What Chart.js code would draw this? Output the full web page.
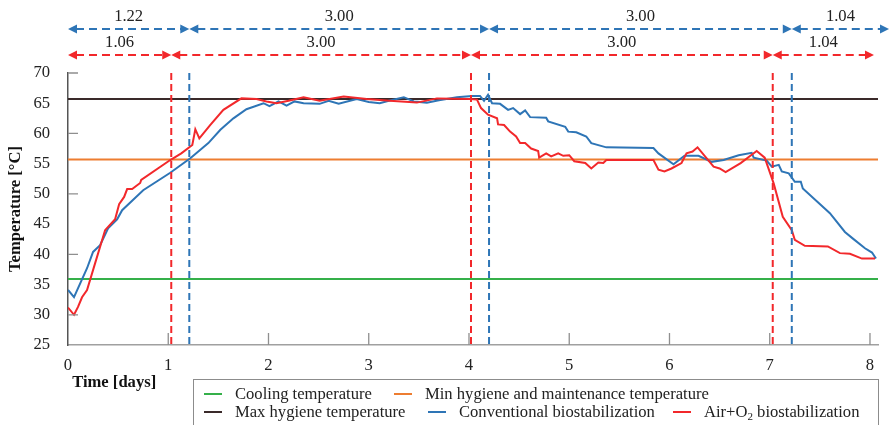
<!DOCTYPE html>
<html>
<head>
<meta charset="utf-8">
<title>Temperature profiles of biostabilization</title>
<script src="https://cdn.jsdelivr.net/npm/chart.js@4.4.1/dist/chart.umd.min.js"></script>
<style>
  html, body { margin: 0; padding: 0; background: #fff; overflow: hidden; }
  #wrap { position: relative; width: 891px; height: 425px; }
  #legend {
    position: absolute; left: 193px; top: 379px; width: 686px; height: 70px;
    border: 1px solid #8c8c8c; box-sizing: border-box;
    font-family: 'Liberation Serif', 'Times New Roman', serif; font-size: 16.6px; color: #222;
  }
  .legend-item { position: absolute; display: flex; align-items: center; white-space: nowrap; height: 18px; line-height: 18px; }
  .legend-line { width: 18px; height: 2px; margin-right: 13px; }
  .legend-item sub { font-size: 11px; line-height: 0; vertical-align: -3px; }
</style>
</head>
<body>
<div id="wrap">
  <canvas id="tempChart" width="891" height="425"></canvas>
  <div id="legend"></div>
</div>
<script>
// ─── Data ─────────────────────────────────────────────────────────────────────

const xTickValues = [0, 1, 2, 3, 4, 5, 6, 7, 8];
const yTickValues = [25, 30, 35, 40, 45, 50, 55, 60, 65, 70];
const yMajorTicks = [30, 40, 50, 60, 70];

// reference temperatures (horizontal lines)
const refNames = ['Cooling temperature', 'Min hygiene and maintenance temperature', 'Max hygiene temperature'];
const refLevels = [35.9, 55.7, 65.7];
const refColors = ['#35b04a', '#ed7d31', '#3a2a2a'];

// conventional biostabilization
const convDays = [0.00, 0.06, 0.19, 0.25, 0.32, 0.40, 0.49, 0.54, 0.75, 1.02, 1.22, 1.40, 1.52, 1.65, 1.78,
  1.95, 2.01, 2.10, 2.18, 2.26, 2.35, 2.51, 2.60, 2.70, 2.88, 3.00, 3.11, 3.20, 3.35, 3.45, 3.58, 3.70, 3.88,
  4.03, 4.11, 4.15, 4.19, 4.23, 4.31, 4.39, 4.44, 4.51, 4.56, 4.61, 4.77, 4.79, 4.96, 4.99, 5.07, 5.17, 5.22,
  5.37, 5.84, 5.89, 6.04, 6.15, 6.29, 6.42, 6.54, 6.69, 6.82, 6.84, 6.97, 7.02, 7.09, 7.12, 7.19, 7.25, 7.31,
  7.33, 7.60, 7.75, 7.83, 7.95, 8.02, 8.06];
const convTemp = [34.1, 32.9, 37.7, 40.4, 41.5, 44.3, 45.8, 47.3, 50.6, 53.5, 55.9, 58.4, 60.6, 62.5, 64.0,
  65.0, 64.5, 65.3, 64.6, 65.3, 65.0, 64.9, 65.4, 64.9, 65.7, 65.2, 65.0, 65.4, 66.0, 65.3, 65.1, 65.5, 66.0,
  66.2, 66.2, 65.4, 66.4, 65.0, 64.9, 63.9, 64.2, 63.2, 63.8, 62.7, 62.6, 62.0, 61.1, 60.3, 60.2, 59.5, 58.4,
  57.7, 57.6, 56.7, 54.9, 56.3, 56.3, 55.3, 55.6, 56.4, 56.8, 56.0, 55.5, 54.5, 54.8, 53.7, 53.4, 52.0, 52.0,
  50.9, 46.8, 43.7, 42.6, 41.0, 40.3, 39.3];

// Air+O2 biostabilization
const airDays = [0.00, 0.06, 0.10, 0.14, 0.19, 0.27, 0.37, 0.47, 0.51, 0.56, 0.59, 0.64, 0.72, 0.73, 1.02,
  1.13, 1.24, 1.27, 1.31, 1.42, 1.55, 1.73, 1.88, 1.98, 2.08, 2.20, 2.35, 2.51, 2.75, 2.98, 3.21, 3.48, 3.68,
  4.01, 4.08, 4.12, 4.19, 4.28, 4.29, 4.35, 4.41, 4.47, 4.51, 4.56, 4.62, 4.69, 4.70, 4.77, 4.82, 4.89, 4.94,
  5.00, 5.05, 5.16, 5.22, 5.29, 5.34, 5.37, 5.84, 5.89, 5.95, 6.02, 6.12, 6.17, 6.23, 6.28, 6.44, 6.50, 6.56,
  6.71, 6.87, 6.95, 7.04, 7.13, 7.22, 7.25, 7.35, 7.58, 7.70, 7.80, 7.92, 8.05];
const airTemp = [31.2, 30.0, 31.3, 32.9, 34.1, 38.5, 44.0, 45.8, 48.3, 49.5, 50.8, 50.8, 51.8, 52.3, 55.6,
  56.7, 58.1, 60.7, 59.2, 61.4, 63.9, 65.8, 65.7, 65.3, 65.0, 65.4, 66.0, 65.4, 66.1, 65.7, 65.4, 65.1, 65.8,
  65.7, 65.6, 64.2, 63.1, 62.5, 61.5, 61.4, 60.3, 59.5, 58.4, 58.4, 57.5, 57.1, 56.0, 56.7, 56.2, 56.7, 56.3,
  56.4, 55.4, 55.1, 54.2, 55.2, 55.1, 55.6, 55.6, 54.0, 53.7, 54.2, 55.1, 56.7, 57.0, 57.7, 54.5, 54.2, 53.6,
  55.1, 57.1, 56.0, 51.7, 46.2, 44.0, 42.4, 41.4, 41.3, 40.2, 40.1, 39.3, 39.3];

// phase boundaries (days) and durations shown above the plot
const convBounds = [0, 1.21, 4.20, 7.22, 8.19];
const convPhaseLabels = ['1.22', '3.00', '3.00', '1.04'];
const airBounds = [0, 1.03, 4.02, 7.03, 8.04];
const airPhaseLabels = ['1.06', '3.00', '3.00', '1.04'];

const xMin = 0;
const xMax = 8.08;

const BLUE = '#2e75b6';
const RED = '#f2282b';
const SERIF = "'Liberation Serif', 'Times New Roman', serif";

// ─── Plugins ──────────────────────────────────────────────────────────────────

/** Inward ticks, dashed phase lines and the duration arrows above the plot. */
const overlayPlugin = {
  id: 'overlay',
  afterDatasetsDraw(chart) {
    const { ctx, chartArea: a, scales: { x, y } } = chart;
    ctx.save();

    // inward tick marks
    ctx.strokeStyle = '#8f8f8f';
    ctx.lineWidth = 1.3;
    ctx.beginPath();
    yMajorTicks.forEach((v) => {
      const py = y.getPixelForValue(v);
      ctx.moveTo(a.left, py);
      ctx.lineTo(a.left + 10, py);
    });
    xTickValues.slice(1).forEach((v) => {
      const px = x.getPixelForValue(v);
      ctx.moveTo(px, a.bottom);
      ctx.lineTo(px, a.bottom - 12);
    });
    ctx.stroke();

    // dashed phase boundaries
    ctx.lineWidth = 2;
    ctx.setLineDash([7, 4]);
    [[airBounds, RED], [convBounds, BLUE]].forEach(([bounds, color]) => {
      ctx.strokeStyle = color;
      bounds.slice(1, -1).forEach((v) => {
        const px = x.getPixelForValue(v);
        ctx.beginPath();
        ctx.moveTo(px, a.top);
        ctx.lineTo(px, a.bottom);
        ctx.stroke();
      });
    });

    // duration arrows
    const drawRow = (bounds, labels, color, rowY) => {
      ctx.font = `16.6px ${SERIF}`;
      ctx.textAlign = 'center';
      ctx.textBaseline = 'middle';
      for (let i = 0; i < labels.length; i++) {
        const x0 = x.getPixelForValue(bounds[i]);
        const x1 = x.getPixelForValue(bounds[i + 1]);
        ctx.strokeStyle = color;
        ctx.fillStyle = color;
        ctx.lineWidth = 2;
        ctx.setLineDash([8, 5]);
        ctx.beginPath();
        ctx.moveTo(x0 + 8, rowY);
        ctx.lineTo(x1 - 8, rowY);
        ctx.stroke();
        ctx.setLineDash([]);
        ctx.beginPath();
        ctx.moveTo(x0, rowY);
        ctx.lineTo(x0 + 9, rowY - 4.5);
        ctx.lineTo(x0 + 9, rowY + 4.5);
        ctx.closePath();
        ctx.moveTo(x1, rowY);
        ctx.lineTo(x1 - 9, rowY - 4.5);
        ctx.lineTo(x1 - 9, rowY + 4.5);
        ctx.closePath();
        ctx.fill();
        ctx.fillStyle = '#222';
        ctx.fillText(labels[i], (x0 + x1) / 2, rowY - 12.5);
      }
    };
    drawRow(convBounds, convPhaseLabels, BLUE, 29);
    drawRow(airBounds, airPhaseLabels, RED, 55);

    ctx.restore();
  },
};

// ─── Chart ────────────────────────────────────────────────────────────────────

const toPoints = (xs, ys) => xs.map((v, i) => ({ x: v, y: ys[i] }));
const flatLine = (level) => [{ x: xMin, y: level }, { x: xMax, y: level }];

const lineStyle = { borderWidth: 2, pointRadius: 0, tension: 0, fill: false };

const datasets = [
  ...refNames.map((name, i) => ({
    label: name, data: flatLine(refLevels[i]), borderColor: refColors[i], order: 2 + i, ...lineStyle,
  })),
  { label: 'Conventional biostabilization', data: toPoints(convDays, convTemp), borderColor: BLUE, order: 1, ...lineStyle },
  { label: 'Air+O₂ biostabilization', data: toPoints(airDays, airTemp), borderColor: RED, order: 0, ...lineStyle },
];

const canvas = document.getElementById('tempChart');
canvas.setAttribute('role', 'img');
canvas.setAttribute('aria-label', 'Line chart of composting temperature over 8 days for conventional and Air+O2 biostabilization');

const chart = new Chart(canvas.getContext('2d'), {
  type: 'line',
  data: { datasets },
  options: {
    responsive: false,
    animation: false,
    devicePixelRatio: 1,
    layout: { padding: { top: 73, right: 13, left: 0, bottom: 0 } },
    plugins: { legend: { display: false }, tooltip: { enabled: false } },
    scales: {
      x: {
        type: 'linear',
        min: xMin,
        max: xMax,
        afterBuildTicks: (s) => { s.ticks = xTickValues.map((v) => ({ value: v })); },
        afterFit: (s) => { s.height = 80; },
        grid: { display: false },
        border: { color: '#a0a0a0', width: 1.5 },
        ticks: { color: '#222', padding: 3, font: { family: SERIF, size: 16.6 } },
        title: {
          display: true, text: ' Time [days]', align: 'start', color: '#111',
          font: { family: SERIF, size: 16.6, weight: 'bold' }, padding: { top: 0, bottom: 32 },
        },
      },
      y: {
        min: 25,
        max: 70,
        afterBuildTicks: (s) => { s.ticks = yTickValues.map((v) => ({ value: v })); },
        afterFit: (s) => { s.width = 68; },
        grid: { display: false },
        border: { color: '#555', width: 1.5 },
        ticks: { color: '#222', padding: 10, font: { family: SERIF, size: 16.6 } },
        title: {
          display: true, text: 'Temperature [°C]', color: '#111',
          font: { family: SERIF, size: 16.6, weight: 'bold' }, padding: { top: 6, bottom: 0 },
        },
      },
    },
  },
  plugins: [overlayPlugin],
});

// ─── Legend ───────────────────────────────────────────────────────────────────

const legendRows = [[0, 1], [2, 3, 4]];
const legendLeft = [[10, 200], [10, 234, 479]];
const legendTop = [5, 23];

const legendEl = document.getElementById('legend');
legendEl.innerHTML = legendRows.map((row, r) => row.map((di, k) => {
  const ds = chart.data.datasets[di];
  const text = ds.label.replace('₂', '<sub>2</sub>');
  return `<div class="legend-item" style="left:${legendLeft[r][k]}px;top:${legendTop[r]}px">`
    + `<div class="legend-line" style="background:${ds.borderColor}"></div><span>${text}</span></div>`;
}).join('')).join('');
</script>
</body>
</html>
